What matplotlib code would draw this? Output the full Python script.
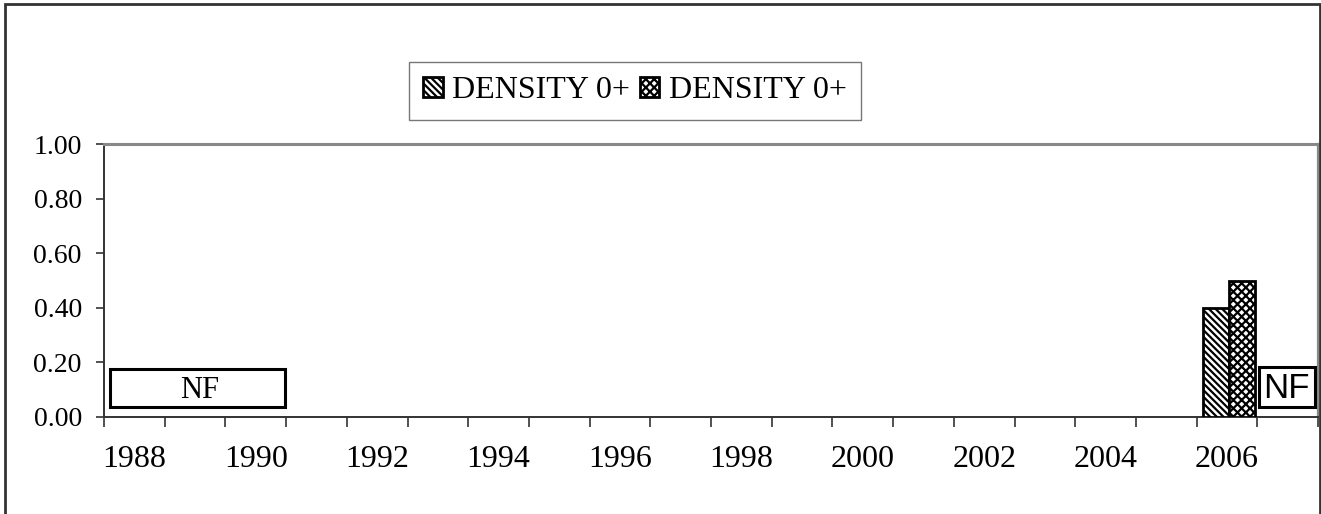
import numpy as np
import matplotlib
matplotlib.use("Agg")
import matplotlib.pyplot as plt
from matplotlib.patches import Rectangle
from matplotlib.ticker import FixedLocator, FuncFormatter

# Jahre (Kategorien) und Dichtewerte; fehlende Jahre = nan
YEARS = list(range(1988, 2008))
DENSITY_A = [np.nan] * 18 + [0.40, np.nan]
DENSITY_B = [np.nan] * 18 + [0.50, np.nan]
SERIES_LABELS = ["DENSITY 0+", "DENSITY 0+"]
NF_TEXT = "NF"

plt.rcParams["hatch.linewidth"] = 1.6

fig = plt.figure(figsize=(13.21, 5.14), dpi=100)
ax = fig.add_axes([104 / 1321, 1 - 417 / 514, (1318 - 104) / 1321, (417 - 144) / 514])

x = np.arange(len(YEARS))
a = np.array(DENSITY_A, dtype=float)
b = np.array(DENSITY_B, dtype=float)
width = 0.43
ma = ~np.isnan(a)
mb = ~np.isnan(b)
ax.bar(x[ma] - width / 2 + 0.03, a[ma], width=width, facecolor="white",
       edgecolor="black", linewidth=2, hatch="\\\\\\\\\\", label=SERIES_LABELS[0], zorder=3)
ax.bar(x[mb] + width / 2 + 0.03, b[mb], width=width, facecolor="white",
       edgecolor="black", linewidth=2, hatch="xxxx", label=SERIES_LABELS[1], zorder=3)

ax.set_xlim(-0.5, len(YEARS) - 0.5)
ax.set_ylim(0, 1.0)

# y-Achse
ax.set_yticks(np.arange(0, 1.01, 0.2))
ax.yaxis.set_major_formatter(FuncFormatter(lambda v, p: f"{v:.2f}"))
ax.tick_params(axis="y", direction="out", length=6, width=1.2, color="#333333",
               labelsize=20, pad=10)

# x-Achse: Striche zwischen den Kategorien, Beschriftung jedes zweite Jahr
ax.xaxis.set_major_locator(FixedLocator(x[::2]))
ax.set_xticklabels([str(y) for y in YEARS[::2]])
ax.xaxis.set_minor_locator(FixedLocator(np.arange(-0.5, len(YEARS), 1.0)))
ax.tick_params(axis="x", which="major", length=0, labelsize=23, pad=20)
ax.tick_params(axis="x", which="minor", direction="out", length=7, width=1.2, color="#333333")

for lbl in ax.get_xticklabels() + ax.get_yticklabels():
    lbl.set_fontfamily("Liberation Serif")

ax.spines["left"].set_color("#333333")
ax.spines["left"].set_linewidth(1.4)
ax.spines["bottom"].set_color("#333333")
ax.spines["bottom"].set_linewidth(1.4)
ax.spines["top"].set_color("#888888")
ax.spines["top"].set_linewidth(2.2)
ax.spines["right"].set_color("#888888")
ax.spines["right"].set_linewidth(1.6)

# "NF"-Kästen (keine Fänge)
ax.add_patch(Rectangle((-0.4, 0.037), 2.88, 0.14, facecolor="white",
                       edgecolor="black", linewidth=2.2, zorder=4))
ax.text(1.08, 0.098, NF_TEXT, ha="center", va="center", fontsize=22,
        family="Liberation Serif", zorder=5)
ax.add_patch(Rectangle((18.52, 0.037), 0.93, 0.145, facecolor="white",
                       edgecolor="black", linewidth=2.2, zorder=4))
ax.text(18.985, 0.103, NF_TEXT, ha="center", va="center", fontsize=25,
        family="Liberation Sans", zorder=5)

leg = fig.legend(loc="center", bbox_to_anchor=(635 / 1321, 1 - 91 / 514), ncol=2,
                 frameon=True, fancybox=False, edgecolor="#555555",
                 prop={"family": "Liberation Serif", "size": 23},
                 handlelength=0.6, handleheight=0.6, handletextpad=0.3,
                 columnspacing=0.3, borderpad=0.45, borderaxespad=0)
leg.get_frame().set_linewidth(1.0)

# äußerer Rahmen
fig.add_artist(Rectangle((5 / 1321, -0.02), 1315 / 1321, 1.02 - 4 / 514,
                         transform=fig.transFigure, facecolor="none",
                         edgecolor="#333333", linewidth=2))

fig.savefig("out.png", dpi=100)
